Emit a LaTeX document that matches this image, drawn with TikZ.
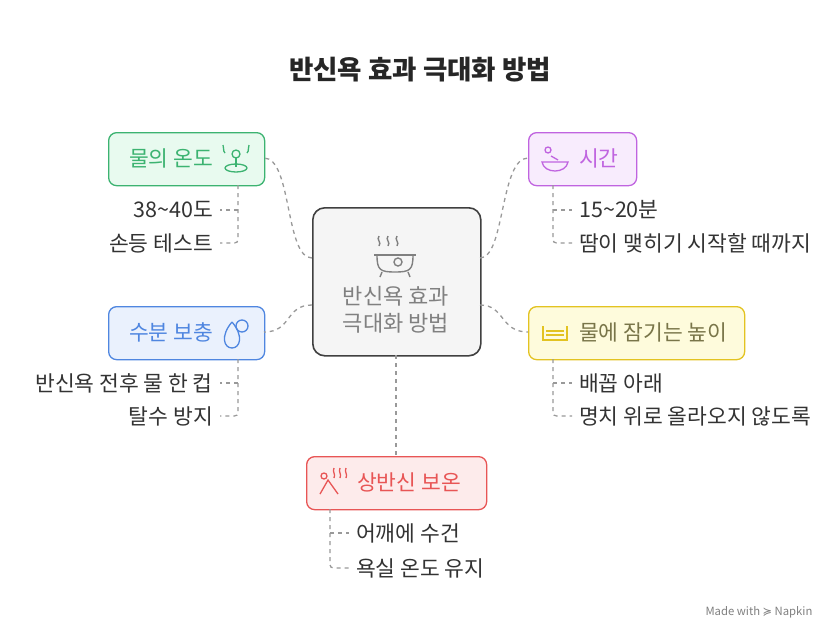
\documentclass[tikz,border=0pt]{standalone}
\usepackage{fontspec}
\setmainfont{Noto Sans CJK KR}
\newfontfamily\djv{DejaVu Sans}
\definecolor{gC}{HTML}{3CB371}\definecolor{gF}{HTML}{E8FAEF}
\definecolor{pC}{HTML}{C064E0}\definecolor{pF}{HTML}{F8ECFD}
\definecolor{bC}{HTML}{4F86E0}\definecolor{bF}{HTML}{EAF1FD}
\definecolor{yC}{HTML}{E3C321}\definecolor{yF}{HTML}{FEFBDC}
\definecolor{rC}{HTML}{E85555}\definecolor{rF}{HTML}{FDEBEB}
\begin{document}
\begin{tikzpicture}[x=1pt,y=-1pt,
  conn/.style={draw=gray!80,line width=1.3pt,dash pattern=on 4pt off 4pt},
  topic/.style={draw,rounded corners=8pt,line width=1.3pt,anchor=north west,inner sep=0},
  lab/.style={font=\fontsize{21.5}{24}\selectfont,anchor=west,inner sep=0},
  item/.style={font=\fontsize{21.5}{24}\selectfont,text=black!80,inner sep=1pt}]
\useasboundingbox (0,0) rectangle (840,640);
\fill[white] (0,0) rectangle (840,640);
\node[font=\fontsize{26.5}{30}\selectfont\bfseries,text=black!85] (title) at (420,70) {반신욕 효과 극대화 방법};
% center
\node[draw=black!75,fill=black!4,rounded corners=12pt,line width=1.6pt,minimum width=168pt,minimum height=148pt,anchor=north west] (c) at (312,207) {};
\node[font=\fontsize{22}{27}\selectfont,text=gray,align=center] (ct) at (396,310) {반신욕 효과\\극대화 방법};
\begin{scope}[draw=gray,line width=1.4pt]
\draw (374,255) -- (416,255);
\draw (377,255) .. controls (377,270) and (380,272) .. (395,272) .. controls (410,272) and (413,270) .. (413,255);
\draw (382,272) -- (380,277) (408,272) -- (410,277);
\draw (398,262) circle (4pt);
\draw (379,236) .. controls (376,240) and (382,242) .. (379,246);
\draw (388,236) .. controls (385,240) and (391,242) .. (388,246);
\draw (397,236) .. controls (394,240) and (400,242) .. (397,246);
\end{scope}
% boxes
\node[topic,draw=gC,fill=gF,minimum width=156pt,minimum height=53pt] (b1) at (108,132) {};
\node[lab,text=gC] at (129,158) {물의 온도};
\begin{scope}[draw=gC,line width=1.3pt]
\draw (236,154) circle (4pt); \draw (236,168) ellipse (11pt and 4pt); \draw (236,158) -- (236,167);
\draw (223,145) .. controls (225,148) and (222,150) .. (225,153);
\draw (249,145) .. controls (247,148) and (250,150) .. (247,153);
\end{scope}
\node[topic,draw=pC,fill=pF,minimum width=108pt,minimum height=53pt] (b2) at (528,132) {};
\node[lab,text=pC] at (579,158) {시간};
\begin{scope}[draw=pC,line width=1.3pt]
\draw (542,162) .. controls (544,174) and (566,174) .. (568,162) -- cycle;
\draw (548,150) circle (3pt); \draw (551,156) -- (558,160);
\end{scope}
\node[topic,draw=bC,fill=bF,minimum width=156pt,minimum height=53pt] (b3) at (108,306) {};
\node[lab,text=bC] at (129,332) {수분 보충};
\begin{scope}[draw=bC,line width=1.3pt]
\draw (232,322) .. controls (220,336) and (224,348) .. (232,348) .. controls (240,348) and (244,336) .. (232,322);
\draw (242,326) circle (6pt);
\end{scope}
\node[topic,draw=yC,fill=yF,minimum width=216pt,minimum height=53pt] (b4) at (528,306) {};
\node[lab,text=yellow!40!black] at (579,332) {물에 잠기는 높이};
\begin{scope}[draw=yC,line width=1.3pt]
\draw (543,326) -- (543,340) -- (567,340) -- (567,326);
\draw (546,331) -- (564,331) (546,335) -- (564,335);
\end{scope}
\node[topic,draw=rC,fill=rF,minimum width=180pt,minimum height=53pt] (b5) at (306,456) {};
\node[lab,text=rC] at (357,482) {상반신 보온};
\begin{scope}[draw=rC,line width=1.3pt]
\draw (320,494) -- (328,480) -- (338,494); \draw (324,476) circle (3pt);
\draw (334,468) .. controls (332,472) and (336,474) .. (334,478);
\draw (340,468) .. controls (338,472) and (342,474) .. (340,478);
\draw (346,468) .. controls (344,472) and (348,474) .. (346,478);
\end{scope}
% main connectors
\draw[conn] (312,258) .. controls (285,258) and (292,158) .. (264,158);
\draw[conn] (480,258) .. controls (505,258) and (500,158) .. (528,158);
\draw[conn] (312,305) .. controls (285,305) and (292,332) .. (264,332);
\draw[conn] (480,305) .. controls (505,305) and (500,332) .. (528,332);
\draw[conn] (396,355) -- (396,456);
% items
\node[item,anchor=east] (i1) at (214,210) {38\textasciitilde40도};
\node[item,anchor=east] (i2) at (214,243) {손등 테스트};
\draw[conn] (238,185) -- (238,236) .. controls (238,243) .. (230,243) -- ([xshift=6pt]i2.east);
\draw[conn] (238,210) -- ([xshift=6pt]i1.east);
\node[item,anchor=west] (i3) at (578,210) {15\textasciitilde20분};
\node[item,anchor=west] (i4) at (578,243) {땀이 맺히기 시작할 때까지};
\draw[conn] (553,185) -- (553,236) .. controls (553,243) .. (561,243) -- ([xshift=-6pt]i4.west);
\draw[conn] (553,210) -- ([xshift=-6pt]i3.west);
\node[item,anchor=east] (i5) at (214,383) {반신욕 전후 물 한 컵};
\node[item,anchor=east] (i6) at (214,416) {탈수 방지};
\draw[conn] (238,359) -- (238,409) .. controls (238,416) .. (230,416) -- ([xshift=6pt]i6.east);
\draw[conn] (238,383) -- ([xshift=6pt]i5.east);
\node[item,anchor=west] (i7) at (578,383) {배꼽 아래};
\node[item,anchor=west] (i8) at (578,416) {명치 위로 올라오지 않도록};
\draw[conn] (553,359) -- (553,409) .. controls (553,416) .. (561,416) -- ([xshift=-6pt]i8.west);
\draw[conn] (553,383) -- ([xshift=-6pt]i7.west);
\node[item,anchor=west] (i9) at (355,533) {어깨에 수건};
\node[item,anchor=west] (i10) at (355,568) {욕실 온도 유지};
\draw[conn] (330,509) -- (330,561) .. controls (330,568) .. (338,568) -- ([xshift=-6pt]i10.west);
\draw[conn] (330,533) -- ([xshift=-6pt]i9.west);
\node[font=\fontsize{11.3}{13}\selectfont,text=gray,anchor=east] (nap) at (816,612) {Made with {\djv ≽} Napkin};
\end{tikzpicture}
\end{document}
